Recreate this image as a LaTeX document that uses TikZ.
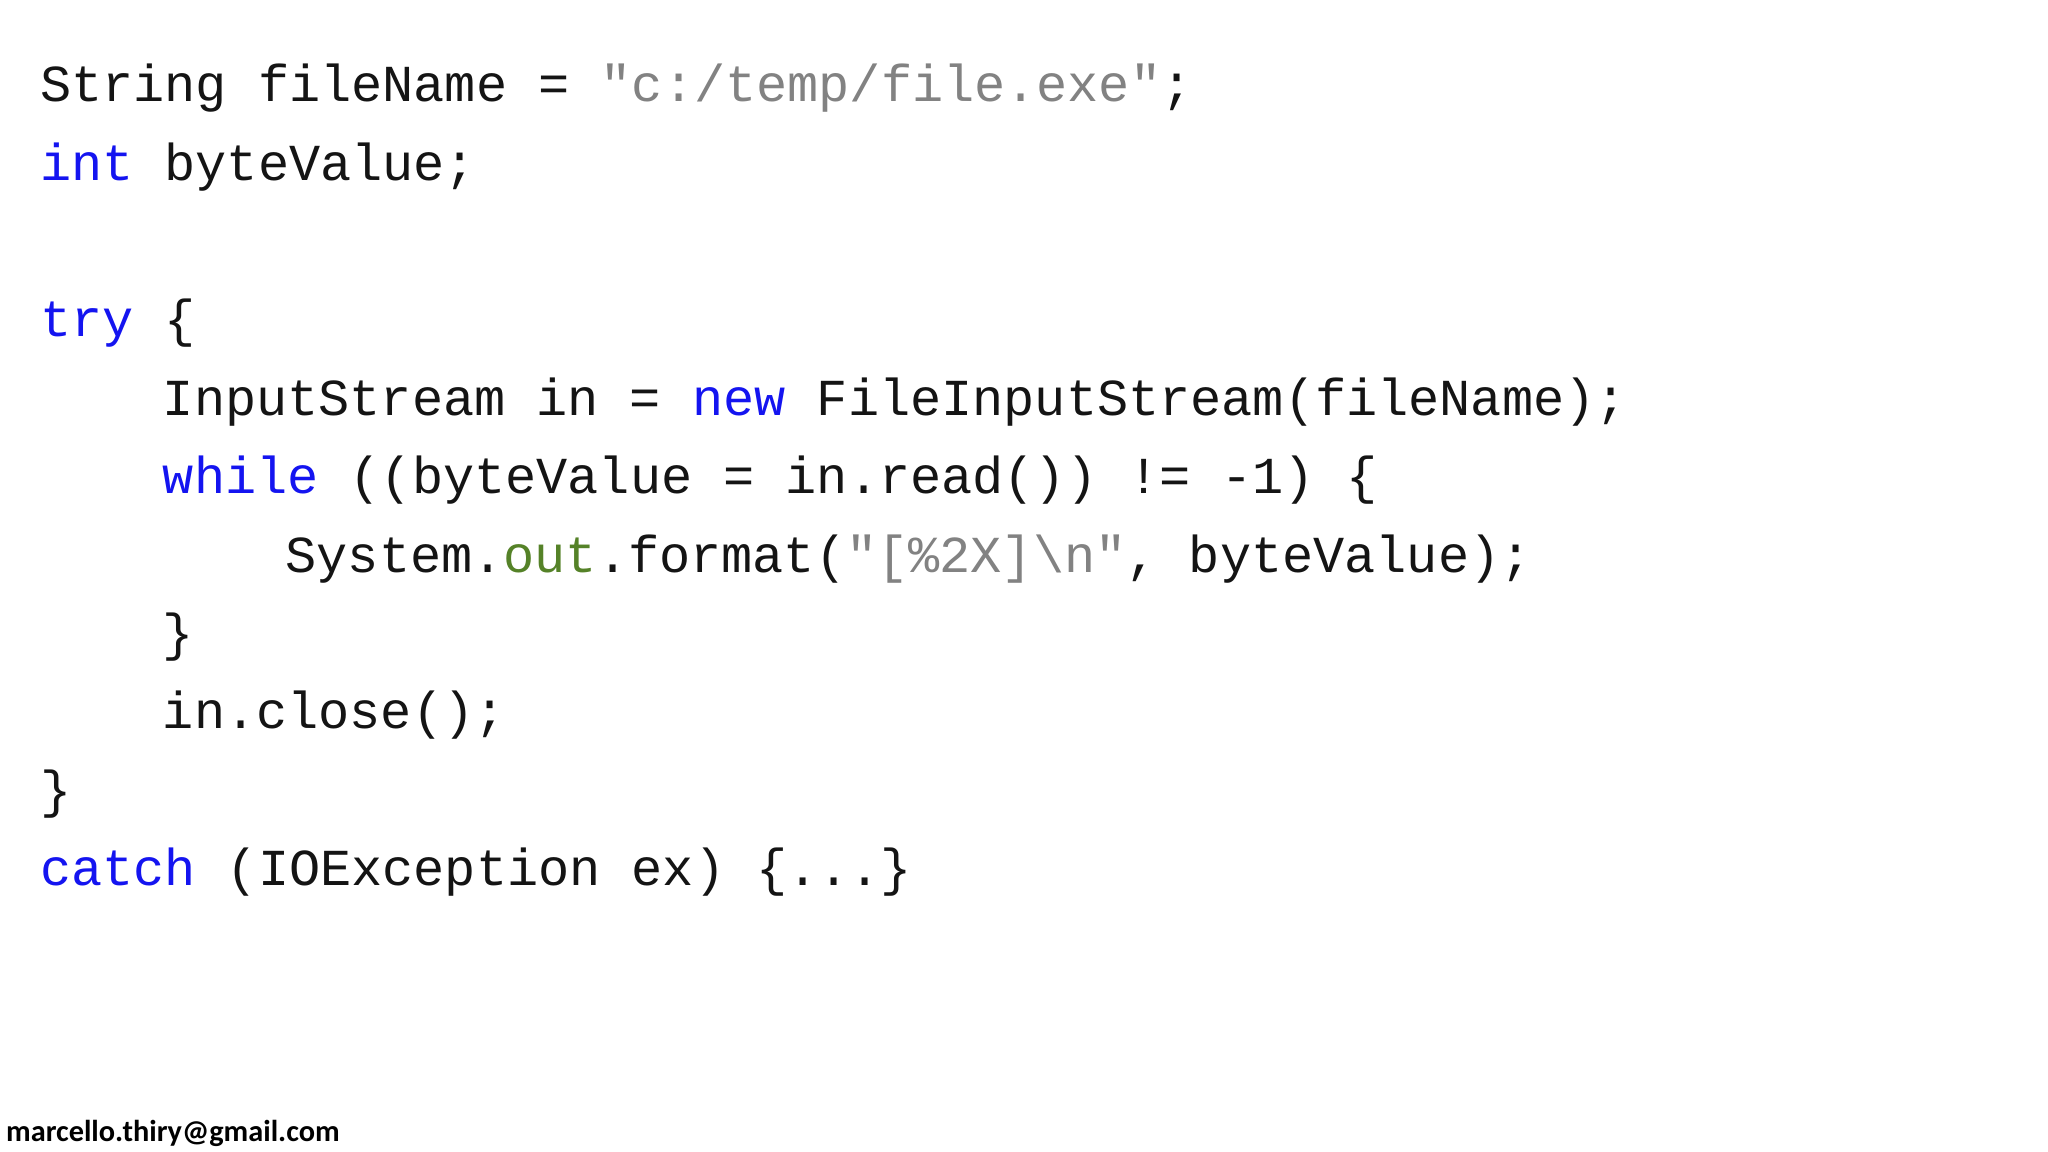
\documentclass[tikz,border=0pt]{standalone}
\usepackage{fontspec}
\newfontfamily\code{Liberation Mono}
\newfontfamily\foot{Carlito}
\definecolor{kw}{RGB}{20,20,240}
\definecolor{st}{RGB}{130,130,130}
\definecolor{gr}{RGB}{85,130,40}
\definecolor{tx}{RGB}{20,20,20}
\tikzset{ln/.style={anchor=base west,inner sep=0pt,font=\code\fontsize{11.3}{13}\selectfont,text=tx}}
\newcommand{\kw}[1]{\textcolor{kw}{#1}}
\newcommand{\st}[1]{\textcolor{st}{#1}}
\begin{document}
\begin{tikzpicture}[x=0.01cm,y=-0.01cm]
\useasboundingbox (0,0) rectangle (1568,882);
\fill[white] (0,0) rectangle (1568,882);
\node[ln] (l1) at (30,78) {String fileName = \st{"c:/temp/file.exe"};};
\node[ln] (l2) at (30,138) {\kw{int} byteValue;};
\node[ln] (l3) at (30,258) {\kw{try} \{};
\node[ln] (l4) at (124,318) {InputStream in = \kw{new} FileInputStream(fileName);};
\node[ln] (l5) at (124,378) {\kw{while} ((byteValue = in.read()) != -1) \{};
\node[ln] (l6) at (218,438) {System.\textcolor{gr}{out}.format(\st{"[\%2X]\textbackslash n"}, byteValue);};
\node[ln] (l7) at (124,498) {\}};
\node[ln] (l8) at (124,558) {in.close();};
\node[ln] (l9) at (30,618) {\}};
\node[ln] (l10) at (30,678) {\kw{catch} (IOException ex) \{...\}};
\node[anchor=base west,inner sep=0pt,font=\foot\bfseries\fontsize{6.6}{8}\selectfont] (ft) at (4,874) {marcello.thiry@gmail.com};
\end{tikzpicture}
\end{document}
